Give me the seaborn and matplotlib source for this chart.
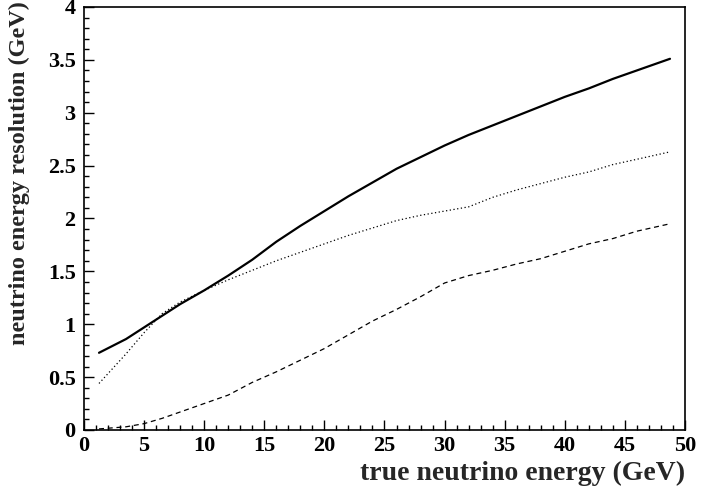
import numpy as np
import pandas as pd
import matplotlib
matplotlib.use("Agg")
import matplotlib.pyplot as plt
from matplotlib.ticker import MultipleLocator
import seaborn as sns

# ==============================
# DATA
# ==============================
energy = [1.25, 3.5, 5, 6.5, 8, 10, 12, 14, 16, 18, 20, 22, 24, 26, 28,
          30, 32, 34, 36, 38, 40, 42, 44, 46, 48.75]

res_solid = [0.73, 0.86, 0.97, 1.08, 1.19, 1.32, 1.46, 1.61, 1.78, 1.93,
             2.07, 2.21, 2.34, 2.47, 2.58, 2.69, 2.79, 2.88, 2.97, 3.06,
             3.15, 3.23, 3.32, 3.40, 3.51]

res_dotted = [0.44, 0.72, 0.92, 1.10, 1.21, 1.32, 1.42, 1.51, 1.60, 1.68,
              1.76, 1.84, 1.91, 1.98, 2.03, 2.07, 2.11, 2.20, 2.27, 2.33,
              2.39, 2.44, 2.51, 2.56, 2.63]

res_dashed = [0.01, 0.03, 0.06, 0.11, 0.17, 0.25, 0.33, 0.45, 0.55, 0.66,
              0.77, 0.90, 1.03, 1.14, 1.26, 1.39, 1.46, 1.51, 1.57, 1.62,
              1.69, 1.76, 1.81, 1.88, 1.95]

x_ticks = list(range(0, 51, 5))
y_ticks = [0, 0.5, 1, 1.5, 2, 2.5, 3, 3.5, 4]
y_ticklabels = ["0", "0.5", "1", "1.5", "2", "2.5", "3", "3.5", "4"]

df = pd.DataFrame({"E": energy, "solid": res_solid,
                   "dotted": res_dotted, "dashed": res_dashed})

# ==============================
# STYLE
# ==============================
sns.set_style("ticks")
plt.rcParams['font.family'] = ['Liberation Serif', 'DejaVu Serif']
plt.rcParams['font.weight'] = 'bold'

fig = plt.figure(figsize=(7.01, 4.88), dpi=100)
ax = fig.add_axes([0.1198, 0.1189, 0.8574, 0.8668])

# ==============================
# PLOT
# ==============================
sns.lineplot(data=df, x="E", y="solid", ax=ax, color="black", linewidth=1.6)
sns.lineplot(data=df, x="E", y="dotted", ax=ax, color="black",
             linewidth=0.9, linestyle=(0, (1, 2)))
sns.lineplot(data=df, x="E", y="dashed", ax=ax, color="black",
             linewidth=0.9, linestyle=(0, (4, 3)))

ax.set_xlim(0, 50)
ax.set_ylim(0, 4)

ax.xaxis.set_minor_locator(MultipleLocator(1))
ax.yaxis.set_minor_locator(MultipleLocator(0.1))
ax.set_xticks(x_ticks)
ax.set_xticklabels([str(v) for v in x_ticks])
ax.set_yticks(y_ticks)
ax.set_yticklabels(y_ticklabels)

ax.tick_params(which="both", direction="in", top=False, right=False,
               labelsize=16, width=1, colors="black")
ax.tick_params(which="major", length=7)
ax.tick_params(which="minor", length=3.5)
ax.tick_params(axis="x", pad=4)
ax.tick_params(axis="y", pad=6)
for lab in ax.get_xticklabels() + ax.get_yticklabels():
    lab.set_fontweight("bold")

for sp in ax.spines.values():
    sp.set_visible(True)
    sp.set_linewidth(1.2)
    sp.set_color("black")

ax.set_xlabel("true neutrino energy (GeV)", fontsize=20, fontweight="bold",
              loc="right")
ax.set_ylabel("neutrino energy resolution (GeV)", fontsize=17.5,
              fontweight="bold", loc="top")
ax.xaxis.set_label_coords(1.0, -0.072)
ax.yaxis.set_label_coords(-0.09, 1.015)

fig.savefig("out.png", dpi=100)
